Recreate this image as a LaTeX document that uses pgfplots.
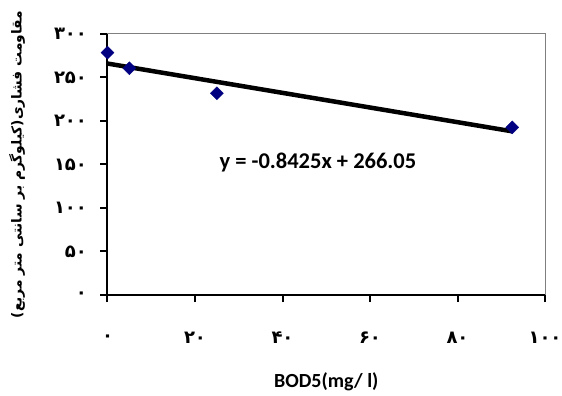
\documentclass[border=0pt]{standalone}
\usepackage{pgfplots}
\pgfplotsset{compat=1.18}
\usepackage{fontspec}
\setmainfont{Carlito}
\newfontfamily\arabicfont[Script=Arabic]{DejaVu Sans}
\TeXXeTstate=1
\definecolor{navyblue}{RGB}{0,0,128}
\begin{document}
\begin{tikzpicture}
\path[use as bounding box] (-107.5pt,-101pt) rectangle (454.5pt,295pt);
\begin{axis}[
  at={(0,0)}, anchor=south west,
  scale only axis, width=437.5pt, height=261pt,
  xmin=0, xmax=100, ymin=0, ymax=300,
  axis x line*=bottom, axis y line*=left,
  axis line style={line width=2pt, black, -},
  xtick={0,20,40,60,80,100},
  xticklabels={۰,۲۰,۴۰,۶۰,۸۰,۱۰۰},
  ytick={0,50,100,150,200,250,300},
  yticklabels={۰,۵۰,۱۰۰,۱۵۰,۲۰۰,۲۵۰,۳۰۰},
  tick align=outside,
  major tick length=7pt,
  tick style={line width=2pt, black},
  ticklabel style={font=\arabicfont\bfseries\fontsize{18}{21}\selectfont},
  xticklabel style={anchor=center, yshift=-36pt},
  yticklabel style={anchor=east, xshift=-10pt},
  xlabel={\bfseries BOD5(mg/ l)},
  xlabel style={font=\fontsize{20}{24}\selectfont, at={(axis description cs:0.5,0)}, anchor=center, yshift=-87pt},
  ylabel={\arabicfont\bfseries\beginR مقاومت فشاری(کیلوگرم بر سانتی متر مربع)\endR},
  ylabel style={font=\fontsize{13.8}{16}\selectfont, at={(axis description cs:-0.2069,0.5)}, anchor=center},
  clip=false,
]
\draw[gray, line width=1pt] (rel axis cs:0,1) -- (rel axis cs:1,1) -- (rel axis cs:1,0);
\addplot[black, line width=4.5pt, no marks] coordinates {(0,266.05) (92.5,188.12)};
\addplot[only marks, mark=square*, mark size=4.6pt, mark options={rotate=45, fill=navyblue, draw=navyblue}] coordinates {
(0,278.5) (5,260.6) (25,231.8) (92.5,192.7)};
\node[font=\bfseries\fontsize{22.5}{26}\selectfont] at (axis cs:48.1,152) {y = -0.8425x + 266.05};
\end{axis}
\end{tikzpicture}
\end{document}
